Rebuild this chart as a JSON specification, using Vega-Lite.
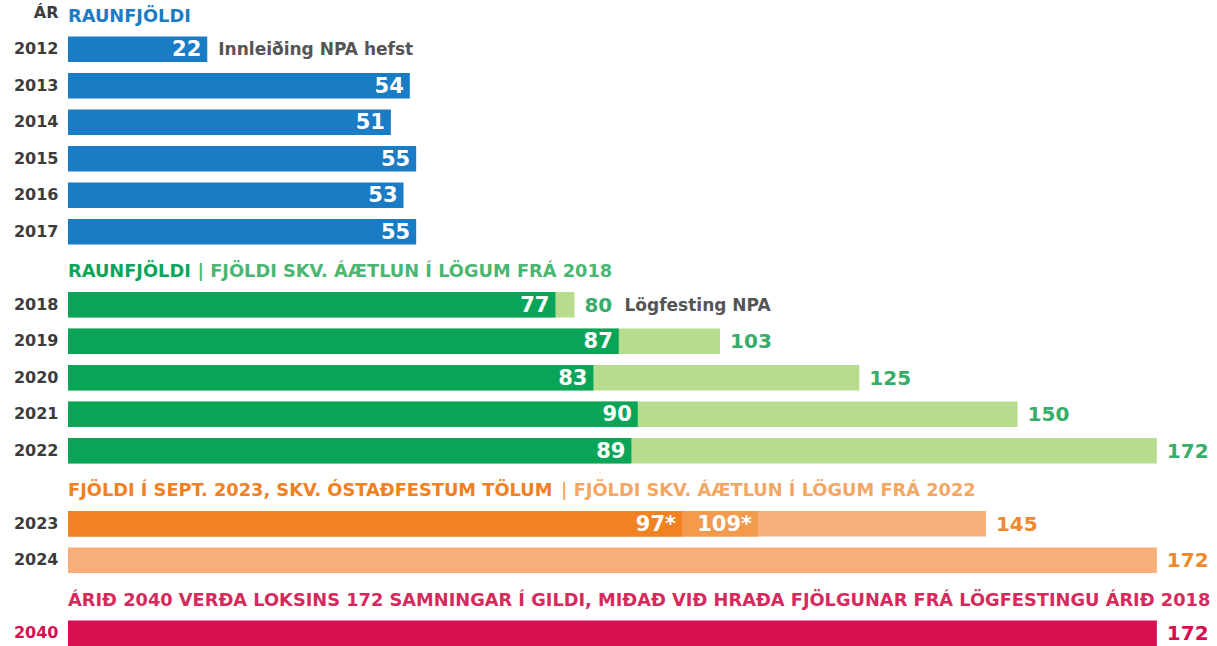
{
  "$schema": "https://vega.github.io/schema/vega-lite/v6.json",
  "width": 1149,
  "height": 646,
  "autosize": "none",
  "padding": {"left": 68, "top": 0, "right": 0, "bottom": 0},
  "background": "white",
  "config": {"view": {"stroke": null}, "font": "DejaVu Sans"},
  "datasets": {
    "bars": [
      {"row": "2012", "kind": "blue", "v": 22, "lab": "22", "pos": "in", "note": "Innleiðing NPA hefst"},
      {"row": "2013", "kind": "blue", "v": 54, "lab": "54", "pos": "in"},
      {"row": "2014", "kind": "blue", "v": 51, "lab": "51", "pos": "in"},
      {"row": "2015", "kind": "blue", "v": 55, "lab": "55", "pos": "in"},
      {"row": "2016", "kind": "blue", "v": 53, "lab": "53", "pos": "in"},
      {"row": "2017", "kind": "blue", "v": 55, "lab": "55", "pos": "in"},
      {"row": "2018", "kind": "plan18", "v": 80, "lab": "80", "pos": "out", "note": "Lögfesting NPA"},
      {"row": "2018", "kind": "act18", "v": 77, "lab": "77", "pos": "in"},
      {"row": "2019", "kind": "plan18", "v": 103, "lab": "103", "pos": "out"},
      {"row": "2019", "kind": "act18", "v": 87, "lab": "87", "pos": "in"},
      {"row": "2020", "kind": "plan18", "v": 125, "lab": "125", "pos": "out"},
      {"row": "2020", "kind": "act18", "v": 83, "lab": "83", "pos": "in"},
      {"row": "2021", "kind": "plan18", "v": 150, "lab": "150", "pos": "out"},
      {"row": "2021", "kind": "act18", "v": 90, "lab": "90", "pos": "in"},
      {"row": "2022", "kind": "plan18", "v": 172, "lab": "172", "pos": "out"},
      {"row": "2022", "kind": "act18", "v": 89, "lab": "89", "pos": "in"},
      {"row": "2023", "kind": "plan22", "v": 145, "lab": "145", "pos": "out"},
      {"row": "2023", "kind": "mid23", "v": 109, "lab": "109*", "pos": "in"},
      {"row": "2023", "kind": "act23", "v": 97, "lab": "97*", "pos": "in"},
      {"row": "2024", "kind": "plan22", "v": 172, "lab": "172", "pos": "out"},
      {"row": "2040", "kind": "pink", "v": 172, "lab": "172", "pos": "out"}
    ],
    "heads": [
      {"row": "h1", "t": "RAUNFJÖLDI", "grp": "blue", "part": 1},
      {"row": "h2", "t": "RAUNFJÖLDI", "grp": "green1", "part": 1},
      {"row": "h2", "t": "| FJÖLDI SKV. ÁÆTLUN Í LÖGUM FRÁ 2018", "grp": "green2", "part": 2},
      {"row": "h3", "t": "FJÖLDI Í SEPT. 2023, SKV. ÓSTAÐFESTUM TÖLUM", "grp": "orange1", "part": 1},
      {"row": "h3", "t": "| FJÖLDI SKV. ÁÆTLUN Í LÖGUM FRÁ 2022", "grp": "orange2", "part": 2},
      {"row": "h4", "t": "ÁRIÐ 2040 VERÐA LOKSINS 172 SAMNINGAR Í GILDI, MIÐAÐ VIÐ HRAÐA FJÖLGUNAR FRÁ LÖGFESTINGU ÁRIÐ 2018", "grp": "pink", "part": 1}
    ]
  },
  "encoding": {
    "y": {
      "field": "row",
      "type": "nominal",
      "scale": {
        "domain": ["h1", "2012", "2013", "2014", "2015", "2016", "2017", "h2", "2018", "2019", "2020", "2021", "2022", "h3", "2023", "2024", "h4", "2040"],
        "paddingInner": 0.3,
        "paddingOuter": 0
      },
      "axis": {
        "title": null,
        "domain": false,
        "ticks": false,
        "grid": false,
        "labelPadding": 10,
        "labelFont": "DejaVu Sans",
        "labelFontWeight": "bold",
        "labelFontSize": 16,
        "labelColor": {"condition": {"test": "datum.value == '2040'", "value": "#d60f4f"}, "value": "#3c3c3c"},
        "labelExpr": "datum.value == 'h1' ? 'ÁR' : (indexof(datum.value, 'h') == 0 ? '' : datum.value)"
      }
    },
    "x": {
      "field": "v",
      "type": "quantitative",
      "stack": null,
      "scale": {"domain": [0, 181.5], "nice": false},
      "axis": null
    }
  },
  "layer": [
    {
      "data": {"name": "bars"},
      "mark": {"type": "bar"},
      "encoding": {
        "color": {
          "field": "kind",
          "type": "nominal",
          "scale": {
            "domain": ["blue", "plan18", "act18", "plan22", "mid23", "act23", "pink"],
            "range": ["#1a7cc4", "#b8dc8e", "#0ba55a", "#f7ae78", "#f39a4d", "#f08222", "#d60f4f"]
          },
          "legend": null
        }
      }
    },
    {
      "data": {"name": "bars"},
      "transform": [{"filter": "datum.pos == 'in'"}],
      "mark": {"type": "text", "align": "right", "baseline": "middle", "dx": -6, "dy": 1, "font": "DejaVu Sans", "fontWeight": "bold", "fontSize": 21, "color": "white"},
      "encoding": {"text": {"field": "lab"}}
    },
    {
      "data": {"name": "bars"},
      "transform": [{"filter": "datum.pos == 'out'"}],
      "mark": {"type": "text", "align": "left", "baseline": "middle", "dx": 10, "dy": 1, "font": "DejaVu Sans", "fontWeight": "bold", "fontSize": 20},
      "encoding": {
        "text": {"field": "lab"},
        "color": {
          "field": "kind",
          "type": "nominal",
          "scale": {"domain": ["plan18", "plan22", "pink"], "range": ["#37ad6a", "#f0892e", "#d60f4f"]},
          "legend": null
        }
      }
    },
    {
      "data": {"name": "bars"},
      "transform": [{"filter": "datum.row == '2012'"}],
      "mark": {"type": "text", "align": "left", "baseline": "middle", "dx": 11, "dy": 1, "font": "DejaVu Sans", "fontWeight": "bold", "fontSize": 17, "color": "#555555"},
      "encoding": {"text": {"field": "note"}}
    },
    {
      "data": {"name": "bars"},
      "transform": [{"filter": "datum.row == '2018' && datum.kind == 'plan18'"}],
      "mark": {"type": "text", "align": "left", "baseline": "middle", "dx": 50, "dy": 1, "font": "DejaVu Sans", "fontWeight": "bold", "fontSize": 17, "color": "#555555"},
      "encoding": {"text": {"field": "note"}}
    },
    {
      "data": {"name": "heads"},
      "transform": [{"filter": "datum.part == 1"}, {"calculate": "0", "as": "v"}],
      "mark": {"type": "text", "align": "left", "baseline": "middle", "dy": 4, "font": "DejaVu Sans", "fontWeight": "bold", "fontSize": 17.8},
      "encoding": {
        "text": {"field": "t"},
        "color": {
          "field": "grp",
          "type": "nominal",
          "scale": {
            "domain": ["blue", "green1", "orange1", "pink"],
            "range": ["#1a7cc4", "#0ba55a", "#ef8024", "#d52a5b"]
          },
          "legend": null
        }
      }
    },
    {
      "data": {"name": "heads"},
      "transform": [{"filter": "datum.grp == 'green2'"}, {"calculate": "0", "as": "v"}],
      "mark": {"type": "text", "align": "left", "baseline": "middle", "dx": 129.5, "dy": 4, "font": "DejaVu Sans", "fontWeight": "bold", "fontSize": 17.8, "color": "#4ab672"},
      "encoding": {"text": {"field": "t"}}
    },
    {
      "data": {"name": "heads"},
      "transform": [{"filter": "datum.grp == 'orange2'"}, {"calculate": "0", "as": "v"}],
      "mark": {"type": "text", "align": "left", "baseline": "middle", "dx": 493, "dy": 4, "font": "DejaVu Sans", "fontWeight": "bold", "fontSize": 17.8, "color": "#f4a765"},
      "encoding": {"text": {"field": "t"}}
    }
  ],
  "resolve": {"scale": {"color": "independent"}}
}
